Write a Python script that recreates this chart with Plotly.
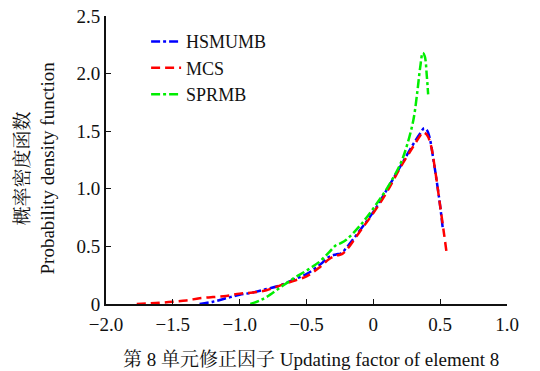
import plotly.graph_objects as go

hs_x = [-1.30, -1.20, -1.10, -1.00, -0.90, -0.80, -0.70, -0.60, -0.50, -0.40, -0.33, -0.28, -0.24, -0.20, -0.10, 0.00, 0.10, 0.20, 0.30, 0.35, 0.38, 0.40, 0.42, 0.45, 0.48, 0.50, 0.52]
hs_y = [0.00, 0.02, 0.05, 0.08, 0.10, 0.13, 0.16, 0.21, 0.26, 0.34, 0.41, 0.43, 0.44, 0.49, 0.64, 0.80, 0.99, 1.19, 1.39, 1.48, 1.525, 1.51, 1.45, 1.25, 1.02, 0.85, 0.65]

mcs_x = [-1.77, -1.60, -1.50, -1.40, -1.30, -1.20, -1.10, -1.00, -0.90, -0.80, -0.70, -0.60, -0.50, -0.40, -0.33, -0.28, -0.24, -0.20, -0.10, 0.00, 0.10, 0.20, 0.30, 0.35, 0.37, 0.40, 0.43, 0.46, 0.50, 0.53, 0.55]
mcs_y = [0.00, 0.01, 0.02, 0.03, 0.05, 0.06, 0.07, 0.09, 0.10, 0.12, 0.16, 0.20, 0.24, 0.32, 0.39, 0.42, 0.43, 0.47, 0.63, 0.79, 0.97, 1.18, 1.37, 1.46, 1.49, 1.47, 1.38, 1.18, 0.85, 0.60, 0.43]

sp_x = [-0.92, -0.85, -0.80, -0.70, -0.60, -0.50, -0.40, -0.33, -0.28, -0.24, -0.20, -0.10, 0.00, 0.10, 0.20, 0.25, 0.30, 0.33, 0.35, 0.37, 0.385, 0.40, 0.41]
sp_y = [0.00, 0.03, 0.06, 0.14, 0.22, 0.29, 0.37, 0.45, 0.51, 0.53, 0.56, 0.68, 0.83, 1.00, 1.21, 1.37, 1.60, 1.85, 2.05, 2.18, 2.15, 1.98, 1.82]

x_ticks = [-2.0, -1.5, -1.0, -0.5, 0.0, 0.5, 1.0]
x_ticktext = ["\u22122.0", "\u22121.5", "\u22121.0", "\u22120.5", "0", "0.5", "1.0"]
y_ticks = [0, 0.5, 1.0, 1.5, 2.0, 2.5]
y_ticktext = ["0", "0.5", "1.0", "1.5", "2.0", "2.5"]

FONT = "Liberation Serif, Times New Roman, Noto Serif CJK SC, Noto Sans CJK SC, serif"

fig = go.Figure()
fig.add_trace(go.Scatter(x=hs_x, y=hs_y, mode="lines", name="HSMUMB",
                         line=dict(color="#0000ff", width=2.5, dash="dashdot", shape="spline")))
fig.add_trace(go.Scatter(x=mcs_x, y=mcs_y, mode="lines", name="MCS",
                         line=dict(color="#ff0000", width=2.5, dash="9px,5px", shape="spline")))
fig.add_trace(go.Scatter(x=sp_x, y=sp_y, mode="lines", name="SPRMB",
                         line=dict(color="#00ee00", width=2.5, dash="dashdot", shape="spline")))

fig.update_layout(
    width=540, height=371,
    margin=dict(l=106, r=33, t=16, b=67),
    paper_bgcolor="white", plot_bgcolor="white",
    font=dict(family=FONT, size=19, color="#111111"),
    showlegend=True,
    legend=dict(x=0.10, y=0.975, xanchor="left", yanchor="top",
                bgcolor="rgba(0,0,0,0)", font=dict(size=18, family=FONT),
                tracegroupgap=0, itemwidth=30),
    annotations=[
        dict(text="概率密度函数<br>Probability density function",
             xref="paper", yref="paper", x=-0.176, y=0.472,
             xanchor="center", yanchor="middle", textangle=-90,
             showarrow=False, font=dict(size=19, family=FONT)),
        dict(text="第 8 单元修正因子 Updating factor of element 8",
             xref="paper", yref="paper", x=0.511, y=-0.193,
             xanchor="center", yanchor="middle",
             showarrow=False, font=dict(size=19, family=FONT)),
    ],
)
fig.update_xaxes(range=[-2.0, 1.0], tickvals=x_ticks, ticktext=x_ticktext,
                 showline=True, linecolor="#111111", linewidth=1.8,
                 ticks="inside", ticklen=5, tickcolor="#111111", showgrid=False, zeroline=False,
                 ticklabelstandoff=2, automargin=False,
                 tickfont=dict(size=19))
fig.update_yaxes(range=[0, 2.5], tickvals=y_ticks, ticktext=y_ticktext,
                 showline=True, linecolor="#111111", linewidth=1.8,
                 ticks="inside", ticklen=5, tickcolor="#111111", showgrid=False, zeroline=False,
                 automargin=False,
                 tickfont=dict(size=19))

fig.write_html("out.html")
